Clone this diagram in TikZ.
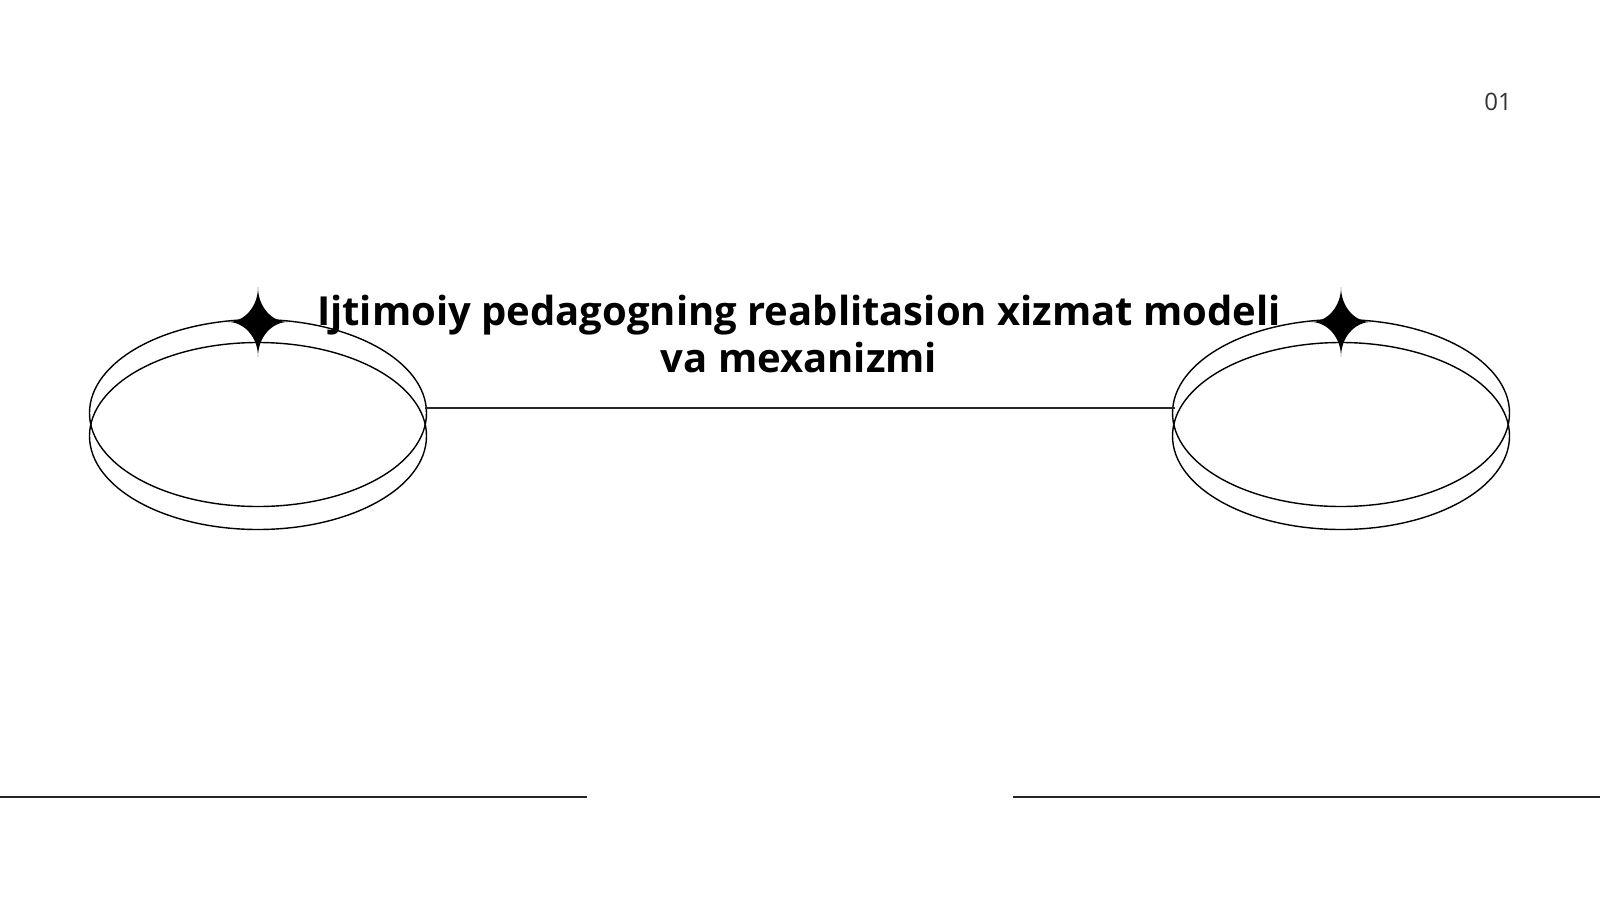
\documentclass[tikz,border=0pt]{standalone}
\usepackage{fontspec}
\setmainfont{Open Sans}
\usetikzlibrary{shapes.geometric}
\tikzset{
  ring/.style={draw, ellipse, line width=0.7pt, minimum width=168.5pt, minimum height=93.5pt, inner sep=0pt},
  rule/.style={line width=0.8pt, draw=black!85},
}
\newcommand{\sparkle}[1]{%
  \fill (#1) ++(0,-35) .. controls +(0,20) and +(-16,0) .. ++(30,35)
    .. controls +(-16,0) and +(0,-20) .. ++(-30,35)
    .. controls +(0,-20) and +(16,0) .. ++(-30,-35)
    .. controls +(16,0) and +(0,20) .. ++(30,-35) -- cycle;}

\begin{document}
\begin{tikzpicture}[x=0.5pt,y=-0.5pt]
  \useasboundingbox (0,0) rectangle (1600,900);
  % Rings
  \node[ring] (lu) at (258,413) {};
  \node[ring] (ll) at (258,436) {};
  \node[ring] (ru) at (1341,413) {};
  \node[ring] (rl) at (1341,436) {};
  \sparkle{258,322}
  \sparkle{1341,322}

  % Connector
  \coordinate (la) at (425,408);
  \coordinate (rb) at (1175,408);
  \draw[rule] (la) -- (rb);

  % Title
  \node[font=\fontsize{20}{23.5}\selectfont\bfseries, align=center] (title) at (799,334)
    {Ijtimoiy pedagogning reablitasion xizmat modeli\\va mexanizmi};
  \node[font=\fontsize{12}{14}\selectfont, text=black!80] (num) at (1498,102) {01};

  % Bottom rules
  \coordinate (b1) at (0,797);
  \coordinate (b2) at (587,797);
  \coordinate (b3) at (1013,797);
  \coordinate (b4) at (1600,797);
  \draw[rule] (b1) -- (b2);
  \draw[rule] (b3) -- (b4);
\end{tikzpicture}
\end{document}
